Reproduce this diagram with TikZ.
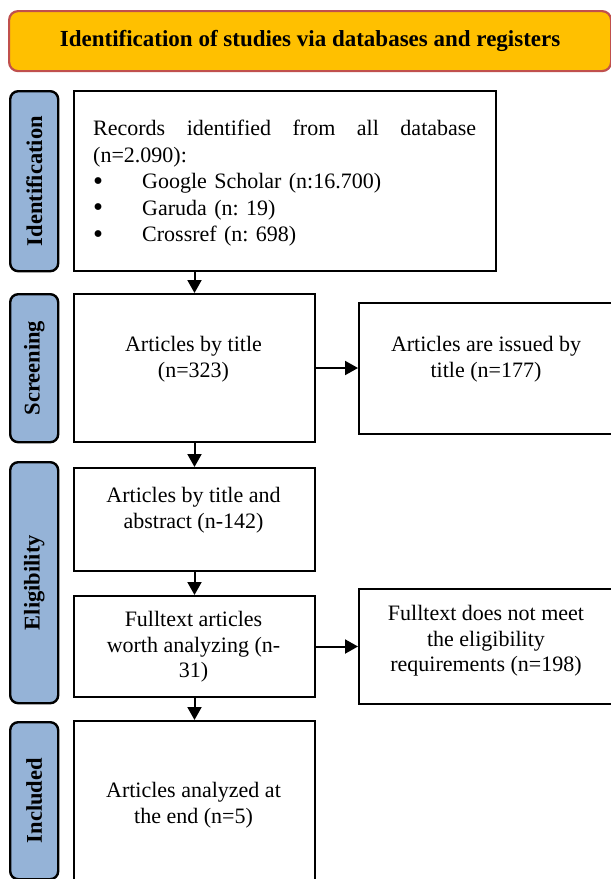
\documentclass[tikz,border=0pt]{standalone}
\usepackage{fontspec}
\setmainfont{Liberation Serif}
\usetikzlibrary{arrows.meta}
\definecolor{titlefill}{HTML}{FFC000}
\definecolor{titledraw}{HTML}{C0504D}
\definecolor{sidefill}{HTML}{95B3D7}
\frenchspacing
\newcommand{\mybul}{\makebox[49pt][l]{\raisebox{-1.5pt}{\scalebox{1.3}{\textbullet}}}}
\begin{document}
\begin{tikzpicture}[x=1pt,y=-1pt,
  box/.style={draw=black, line width=2pt, fill=white, inner sep=0pt, anchor=north west},
  side/.style={draw=black, line width=2.4pt, fill=sidefill, rounded corners=8pt, inner sep=0pt, anchor=north west},
  sidetext/.style={rotate=90, font=\bfseries\fontsize{22.5}{26}\selectfont},
  txt/.style={align=center, inner sep=0pt, font=\fontsize{22}{25.5}\selectfont},
  arr/.style={line width=2pt, -{Triangle[length=13pt,width=14pt]}}]
\useasboundingbox (0,0) rectangle (611,879);
\fill[white] (0,0) rectangle (611,879);
\clip (0,0) rectangle (611,879);
% title
\node[draw=titledraw, line width=2.2pt, fill=titlefill, rounded corners=9pt, anchor=north west,
  minimum width=602pt, minimum height=60pt, inner sep=0pt] (title) at (8,10) {};
\node[font=\bfseries\fontsize{23}{26}\selectfont] (titletxt) at (title.center) {Identification of studies via databases and registers};
% side boxes
\node[side, minimum width=48pt, minimum height=180pt] (sid) at (9,90) {};
\node[sidetext] (sidt) at (sid.center) {Identification};
\node[side, minimum width=48pt, minimum height=148pt] (sscr) at (9,293) {};
\node[sidetext] (sscrt) at (sscr.center) {Screening};
\node[side, minimum width=48pt, minimum height=241pt] (selig) at (9,461) {};
\node[sidetext] (seligt) at (selig.center) {Eligibility};
\node[side, minimum width=48pt, minimum height=157pt] (sinc) at (9,721) {};
\node[sidetext] (sinct) at (sinc.center) {Included};
% main boxes
\node[box, minimum width=422pt, minimum height=180pt] (rec) at (73,90) {};
\node[anchor=north west, inner sep=0pt, text width=383pt, font=\fontsize{22}{26.5}\selectfont] (rect) at (93,120)
  {\parindent0pt\hbox to 383pt{Records\hfill identified\hfill from\hfill all\hfill database}\par
   (n=2.090):\par
   \mybul Google Scholar (n:16.700)\par
   \mybul Garuda (n: 19)\par
   \mybul Crossref (n: 698)};
\node[box, minimum width=241pt, minimum height=148pt] (scr) at (73,293) {};
\node[txt] (scrt) at (193.5,359) {Articles by title\\(n=323)};
\node[box, minimum width=272pt, minimum height=131pt] (iss) at (358,302) {};
\node[txt] (isst) at (486,359) {Articles are issued by\\title (n=177)};
\node[box, minimum width=241pt, minimum height=103pt] (abs) at (73,467) {};
\node[txt] (abst) at (193.5,510) {Articles by title and\\abstract (n-142)};
\node[box, minimum width=241pt, minimum height=101pt] (ful) at (73,595) {};
\node[txt] (fult) at (193.5,647) {Fulltext articles\\worth analyzing (n-\\31)};
\node[box, minimum width=272pt, minimum height=115pt] (nom) at (358,588) {};
\node[txt] (nomt) at (486,641) {Fulltext does not meet\\the eligibility\\requirements (n=198)};
\node[box, minimum width=241pt, minimum height=180pt] (ana) at (73,720) {};
\node[txt] (anat) at (193.5,805) {Articles analyzed at\\the end (n=5)};
% arrows
\draw[arr] (scr.north |- rec.south) -- (scr.north);
\draw[arr] (scr.south) -- (abs.north);
\draw[arr] (abs.south) -- (ful.north);
\draw[arr] (ful.south) -- (ana.north);
\draw[arr] (scr.east) -- (scr.east -| iss.west);
\draw[arr] (ful.east) -- (ful.east -| nom.west);
\end{tikzpicture}
\end{document}
